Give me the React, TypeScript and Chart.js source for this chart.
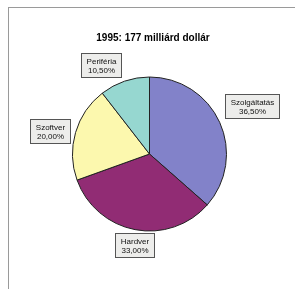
import React, { useEffect, useRef } from "react";
import { Chart, registerables } from "chart.js";

Chart.register(...registerables);

const TITLE = "1995: 177 milliárd dollár";
const categories = ["Szolgáltatás", "Hardver", "Szoftver", "Periféria"];
const shares = [36.5, 33.0, 20.0, 10.5];
const shareLabels = ["36,50%", "33,00%", "20,00%", "10,50%"];
const colors = ["#8282c9", "#912c74", "#fcf8ae", "#96d7d0"];

const FONT = '"Liberation Sans", Arial, sans-serif';
// small label layout nudges (Excel-like placement)
const NUDGE: [number, number][] = [[2, -3], [3, -4], [0, 6], [-16, 5]];

const labelPlugin = {
  id: "boxLabels",
  afterDraw(chart: any) {
    const ctx = chart.ctx;
    const meta = chart.getDatasetMeta(0);
    ctx.save();
    ctx.fillStyle = "#000";
    ctx.font = `bold 10px ${FONT}`;
    ctx.textAlign = "center";
    ctx.textBaseline = "middle";
    ctx.fillText(TITLE, 153, 38);

    ctx.font = `8px ${FONT}`;
    meta.data.forEach((arc: any, i: number) => {
      const { x, y, startAngle, endAngle, outerRadius } = arc.getProps(
        ["x", "y", "startAngle", "endAngle", "outerRadius"],
        true
      );
      const mid = (startAngle + endAngle) / 2;
      const l1 = categories[i];
      const l2 = shareLabels[i];
      const w = Math.ceil(Math.max(ctx.measureText(l1).width, ctx.measureText(l2).width)) + 10;
      const h = 24;
      const hw = w / 2, hh = h / 2;
      const c = Math.cos(mid), s = Math.sin(mid);
      const d = outerRadius + 4 + Math.abs(c) * hw + Math.abs(s) * hh;
      const cx = x + c * d + NUDGE[i][0];
      const cy = y + s * d + NUDGE[i][1];
      const bx = Math.round(cx - hw) + 0.5;
      const by = Math.round(cy - hh) + 0.5;
      ctx.fillStyle = "#ededeb";
      ctx.fillRect(bx, by, w, h);
      ctx.strokeStyle = "#555";
      ctx.lineWidth = 1;
      ctx.strokeRect(bx, by, w, h);
      ctx.fillStyle = "#111";
      ctx.fillText(l1, bx + w / 2, by + 8);
      ctx.fillText(l2, bx + w / 2, by + 17);
    });
    ctx.restore();
  },
};

export default function App() {
  const ref = useRef<HTMLCanvasElement | null>(null);
  useEffect(() => {
    if (!ref.current) return;
    const chart = new Chart(ref.current, {
      type: "pie",
      data: {
        labels: categories,
        datasets: [
          {
            data: shares,
            backgroundColor: colors,
            borderColor: "#222",
            borderWidth: 1,
            hoverOffset: 0,
          },
        ],
      },
      options: {
        animation: false,
        responsive: false,
        events: [],
        layout: { padding: { left: 72, right: 68, top: 76, bottom: 57 } },
        plugins: {
          legend: { display: false },
          title: { display: false },
          tooltip: { enabled: false },
        },
      },
      plugins: [labelPlugin],
    });
    return () => chart.destroy();
  }, []);

  return (
    <div style={{ position: "fixed", left: 0, top: 0, width: 295, height: 289, background: "#fff", overflow: "hidden" }}>
      <div
        style={{
          position: "absolute",
          left: 8,
          top: 7,
          width: 300,
          height: 300,
          borderLeft: "1px solid #9a9a9a",
          borderTop: "1px solid #9a9a9a",
        }}
      />
      <canvas ref={ref} width={295} height={289} style={{ position: "absolute", left: 0, top: 0 }} />
    </div>
  );
}
